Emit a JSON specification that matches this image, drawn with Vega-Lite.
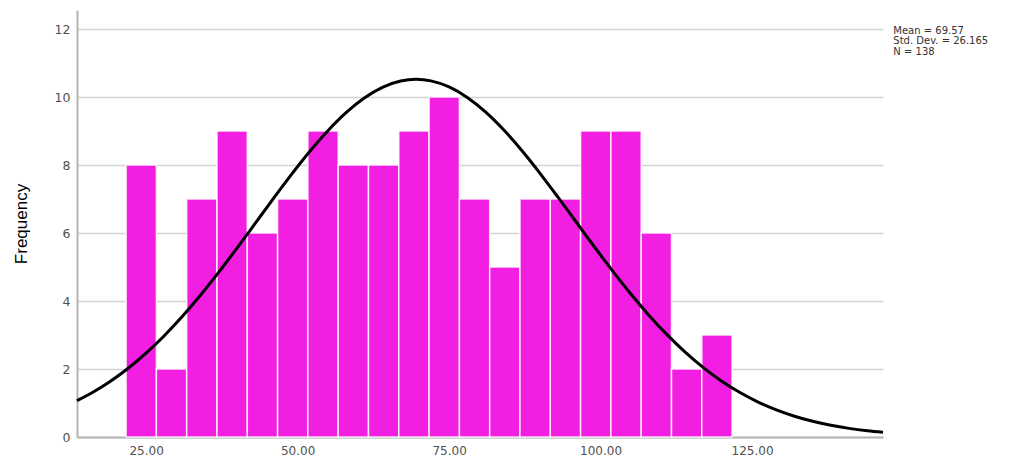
{
  "$schema": "https://vega.github.io/schema/vega-lite/v6.json",
  "width": 806,
  "height": 427,
  "autosize": {"type": "none"},
  "padding": {"left": 77, "top": 10, "right": 136, "bottom": 19},
  "background": "white",
  "config": {"view": {"stroke": null}, "font": "Liberation Sans"},
  "datasets": {
    "bins": [
      {"bin_start": 21.7, "bin_end": 26.7, "count": 8},
      {"bin_start": 26.7, "bin_end": 31.7, "count": 2},
      {"bin_start": 31.7, "bin_end": 36.7, "count": 7},
      {"bin_start": 36.7, "bin_end": 41.7, "count": 9},
      {"bin_start": 41.7, "bin_end": 46.7, "count": 6},
      {"bin_start": 46.7, "bin_end": 51.7, "count": 7},
      {"bin_start": 51.7, "bin_end": 56.7, "count": 9},
      {"bin_start": 56.7, "bin_end": 61.7, "count": 8},
      {"bin_start": 61.7, "bin_end": 66.7, "count": 8},
      {"bin_start": 66.7, "bin_end": 71.7, "count": 9},
      {"bin_start": 71.7, "bin_end": 76.7, "count": 10},
      {"bin_start": 76.7, "bin_end": 81.7, "count": 7},
      {"bin_start": 81.7, "bin_end": 86.7, "count": 5},
      {"bin_start": 86.7, "bin_end": 91.7, "count": 7},
      {"bin_start": 91.7, "bin_end": 96.7, "count": 7},
      {"bin_start": 96.7, "bin_end": 101.7, "count": 9},
      {"bin_start": 101.7, "bin_end": 106.7, "count": 9},
      {"bin_start": 106.7, "bin_end": 111.7, "count": 6},
      {"bin_start": 111.7, "bin_end": 116.7, "count": 2},
      {"bin_start": 116.7, "bin_end": 121.7, "count": 3}
    ],
    "curve": [
      {"x": 13.6, "y": 1.0676}, {"x": 16, "y": 1.2936}, {"x": 19, "y": 1.6251},
      {"x": 22, "y": 2.0150}, {"x": 25, "y": 2.4658}, {"x": 28, "y": 2.9779},
      {"x": 31, "y": 3.5496}, {"x": 34, "y": 4.1756}, {"x": 37, "y": 4.8479},
      {"x": 40, "y": 5.5550}, {"x": 43, "y": 6.2827}, {"x": 46, "y": 7.0118},
      {"x": 49, "y": 7.7239}, {"x": 52, "y": 8.3969}, {"x": 55, "y": 9.0096},
      {"x": 58, "y": 9.5406}, {"x": 61, "y": 9.9710}, {"x": 64, "y": 10.2848},
      {"x": 67, "y": 10.4699}, {"x": 69.57, "y": 10.5205}, {"x": 72, "y": 10.4753},
      {"x": 75, "y": 10.2964}, {"x": 78, "y": 9.9884}, {"x": 81, "y": 9.5631},
      {"x": 84, "y": 9.0363}, {"x": 87, "y": 8.4270}, {"x": 90, "y": 7.7565},
      {"x": 93, "y": 7.0456}, {"x": 96, "y": 6.3168}, {"x": 99, "y": 5.5886},
      {"x": 102, "y": 4.8804}, {"x": 105, "y": 4.2060}, {"x": 108, "y": 3.5774},
      {"x": 111, "y": 3.0033}, {"x": 114, "y": 2.4881}, {"x": 117, "y": 2.0348},
      {"x": 120, "y": 1.6419}, {"x": 123, "y": 1.3078}, {"x": 126, "y": 1.0280},
      {"x": 129, "y": 0.7975}, {"x": 132, "y": 0.6107}, {"x": 135, "y": 0.4614},
      {"x": 138, "y": 0.3441}, {"x": 141, "y": 0.2533}, {"x": 144, "y": 0.1840},
      {"x": 146.6, "y": 0.1381}
    ],
    "stats": [{"label": "stats"}]
  },
  "layer": [
    {
      "data": {"name": "bins"},
      "mark": {"type": "bar", "color": "#f21ee2", "stroke": "#ffffff", "strokeWidth": 1.5, "strokeOpacity": 0.85},
      "encoding": {
        "x": {
          "field": "bin_start", "type": "quantitative",
          "scale": {"domain": [13.6, 146.6], "nice": false, "zero": false},
          "axis": {
            "title": null, "values": [25, 50, 75, 100, 125], "format": ".2f",
            "grid": false, "ticks": false, "domainColor": "#b4b4b4", "domainWidth": 2,
            "labelFont": "DejaVu Sans", "labelColor": "#505050", "labelFontSize": 12, "labelPadding": 8
          }
        },
        "x2": {"field": "bin_end"},
        "y": {
          "field": "count", "type": "quantitative",
          "scale": {"domain": [0, 12.56], "nice": false},
          "axis": {
            "title": "Frequency", "values": [0, 2, 4, 6, 8, 10, 12],
            "grid": true, "gridColor": "#d4d4d4", "gridWidth": 1.5,
            "ticks": false, "domainColor": "#b4b4b4", "domainWidth": 2,
            "labelFont": "DejaVu Sans", "labelColor": "#505050", "labelFontSize": 12.5, "labelPadding": 7,
            "titleColor": "#000000", "titleFontSize": 17, "titleFontWeight": "normal",
            "titlePadding": 24
          }
        },
        "y2": {"datum": 0}
      }
    },
    {
      "data": {"name": "curve"},
      "mark": {"type": "line", "color": "#000000", "strokeWidth": 3, "interpolate": "monotone"},
      "encoding": {
        "x": {"field": "x", "type": "quantitative"},
        "y": {"field": "y", "type": "quantitative"}
      }
    },
    {
      "data": {"name": "stats"},
      "mark": {
        "type": "text", "align": "left", "baseline": "top", "font": "DejaVu Sans",
        "fontSize": 10, "lineHeight": 10.5, "color": "#333333",
        "text": ["Mean = 69.57", "Std. Dev. = 26.165", "N = 138"]
      },
      "encoding": {
        "x": {"datum": 148.3, "type": "quantitative"},
        "y": {"datum": 12.1, "type": "quantitative"}
      }
    }
  ]
}
